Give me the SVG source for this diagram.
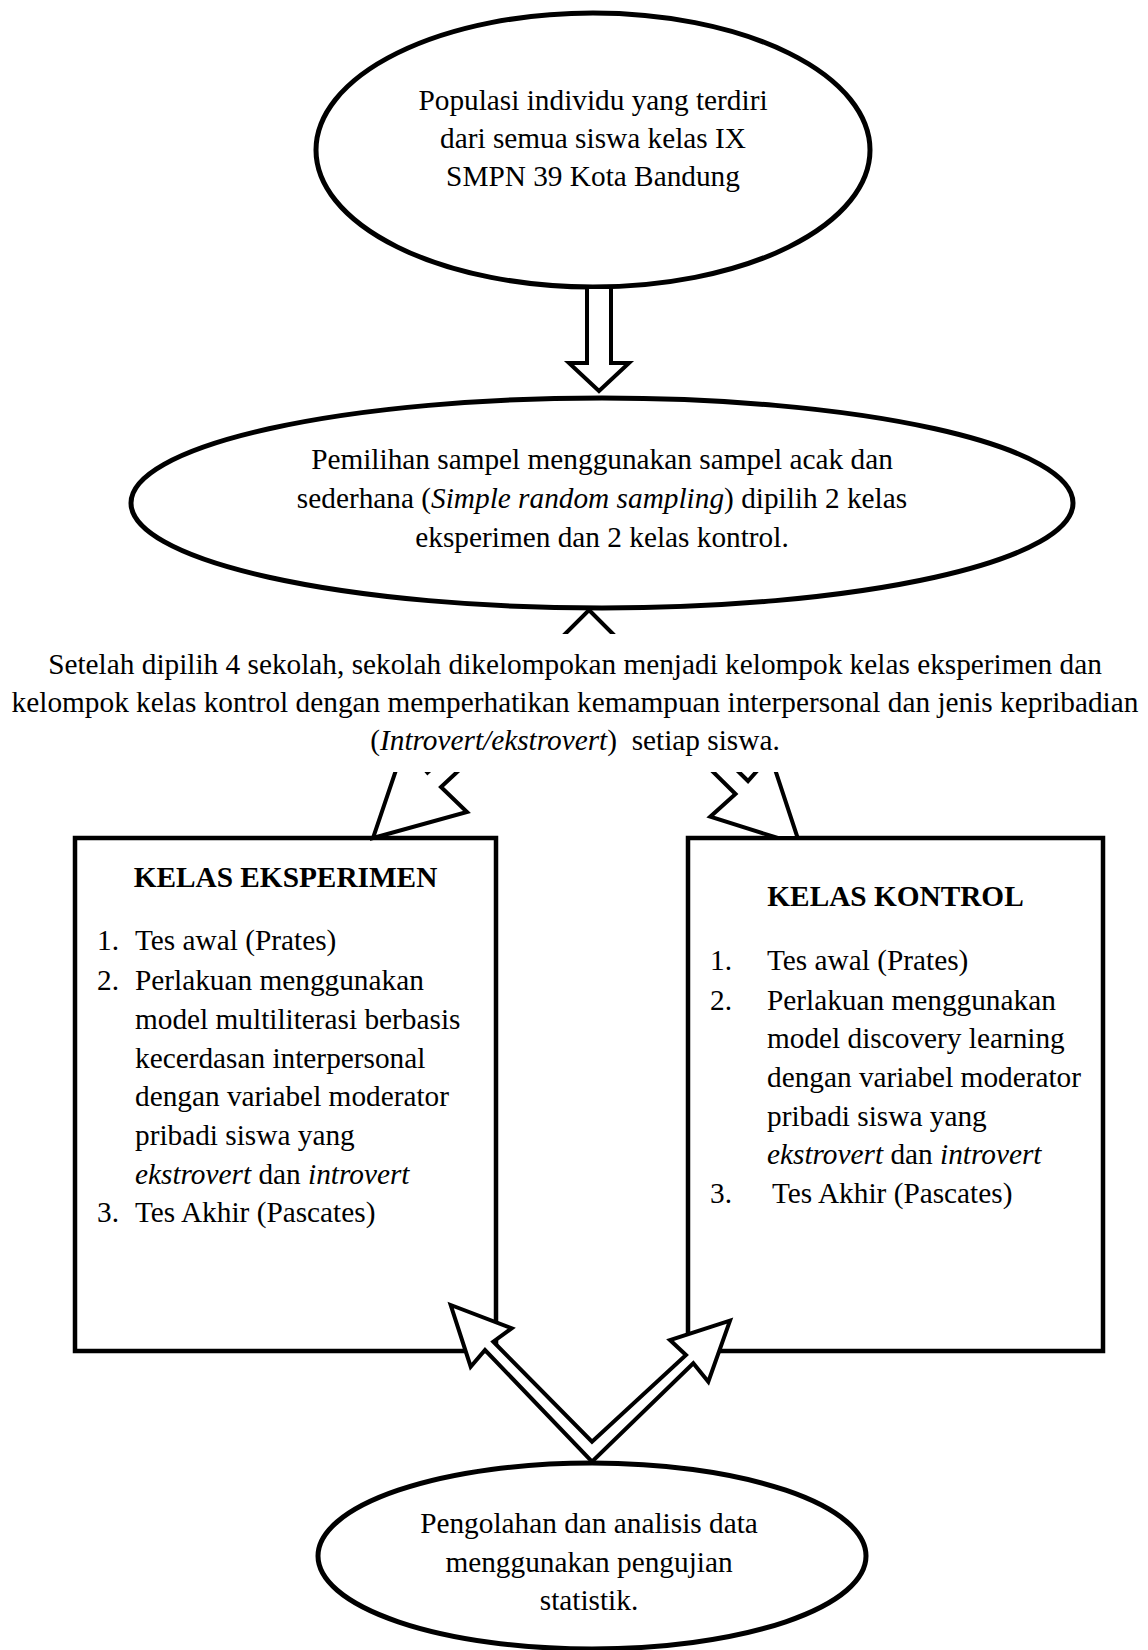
<svg xmlns="http://www.w3.org/2000/svg" width="1148" height="1650" viewBox="0 0 1148 1650">
<style>
.ell{fill:#fff;stroke:#000;stroke-width:5}
.box{fill:#fff;stroke:#000;stroke-width:4.5}
.arr{fill:#fff;stroke:#000;stroke-width:4;stroke-linejoin:miter}
text{font-family:"Liberation Serif","Times New Roman",serif;font-size:29.3px;fill:#000}
.c{text-anchor:middle}
.b{font-weight:bold}
.i{font-style:italic}
</style>
<rect width="1148" height="1650" fill="#fff"/>
<g id="node-populasi">
<ellipse class="ell" cx="593" cy="150" rx="277" ry="137"/>
<text class="c" x="593" y="110">Populasi individu yang terdiri</text>
<text class="c" x="593" y="148">dari semua siswa kelas IX</text>
<text class="c" x="593" y="186">SMPN 39 Kota Bandung</text>
</g>
<g id="node-pemilihan">
<ellipse class="ell" cx="602" cy="503" rx="471" ry="105"/>
<text class="c" x="602" y="469">Pemilihan sampel menggunakan sampel acak dan</text>
<text class="c" x="602" y="508">sederhana (<tspan class="i">Simple random sampling</tspan>) dipilih 2 kelas</text>
<text class="c" x="602" y="547">eksperimen dan 2 kelas kontrol.</text>
</g>
<g id="node-eksperimen">
<rect class="box" x="75" y="838" width="421" height="513"/>
<text class="c b" x="285.5" y="887">KELAS EKSPERIMEN</text>
<text x="97" y="950">1.</text><text x="135" y="950">Tes awal (Prates)</text>
<text x="97" y="990">2.</text><text x="135" y="990">Perlakuan menggunakan</text>
<text x="135" y="1029">model multiliterasi berbasis</text>
<text x="135" y="1068">kecerdasan interpersonal</text>
<text x="135" y="1106">dengan variabel moderator</text>
<text x="135" y="1145">pribadi siswa yang</text>
<text x="135" y="1184"><tspan class="i">ekstrovert</tspan> dan <tspan class="i">introvert</tspan></text>
<text x="97" y="1222">3.</text><text x="135" y="1222">Tes Akhir (Pascates)</text>
</g>
<g id="node-kontrol">
<rect class="box" x="688" y="838" width="415" height="513"/>
<text class="c b" x="895.5" y="906">KELAS KONTROL</text>
<text x="710" y="970">1.</text><text x="767" y="970">Tes awal (Prates)</text>
<text x="710" y="1010">2.</text><text x="767" y="1010">Perlakuan menggunakan</text>
<text x="767" y="1048">model discovery learning</text>
<text x="767" y="1087">dengan variabel moderator</text>
<text x="767" y="1126">pribadi siswa yang</text>
<text x="767" y="1164"><tspan class="i">ekstrovert</tspan> dan <tspan class="i">introvert</tspan></text>
<text x="710" y="1203">3.</text><text x="772" y="1203">Tes Akhir (Pascates)</text>
</g>
<g id="node-analisis">
<ellipse class="ell" cx="592" cy="1556" rx="274" ry="93"/>
<text class="c" x="589" y="1533">Pengolahan dan analisis data</text>
<text class="c" x="589" y="1572">menggunakan pengujian</text>
<text class="c" x="589" y="1610">statistik.</text>
</g>
<g id="connectors">
<polygon class="arr" points="587,287 611,287 611,363 629,363 599,391 569,363 587,363"/>
<polygon class="arr" points="589,610 619,640 599,640 599,700 579,700 579,640 559,640"/>
<polygon class="arr" points="373,838 467,812 441,787 570,667 556,653 427.5,772.6 404.5,745"/>
<polygon class="arr" points="777.8,838 710.3,816.7 735.5,794 609,669 622,657 748,781 770.5,755.7 797.7,838"/>
<polygon class="arr" points="592,1461.7 485,1350 470.7,1366.7 450.7,1305 511.7,1328.3 493.3,1341.7 592,1441.7 686,1355 670,1340 730,1320.7 708.3,1381.7 693.3,1363.3"/>
</g>
<g id="node-pengelompokan">
<rect x="0" y="634" width="1148" height="138" fill="#fff"/>
<text class="c" x="575" y="674">Setelah dipilih 4 sekolah, sekolah dikelompokan menjadi kelompok kelas eksperimen dan</text>
<text class="c" x="575" y="712">kelompok kelas kontrol dengan memperhatikan kemampuan interpersonal dan jenis kepribadian</text>
<text class="c" x="575" y="750" xml:space="preserve">(<tspan class="i">Introvert/ekstrovert</tspan>)  setiap siswa.</text>
</g>
</svg>
